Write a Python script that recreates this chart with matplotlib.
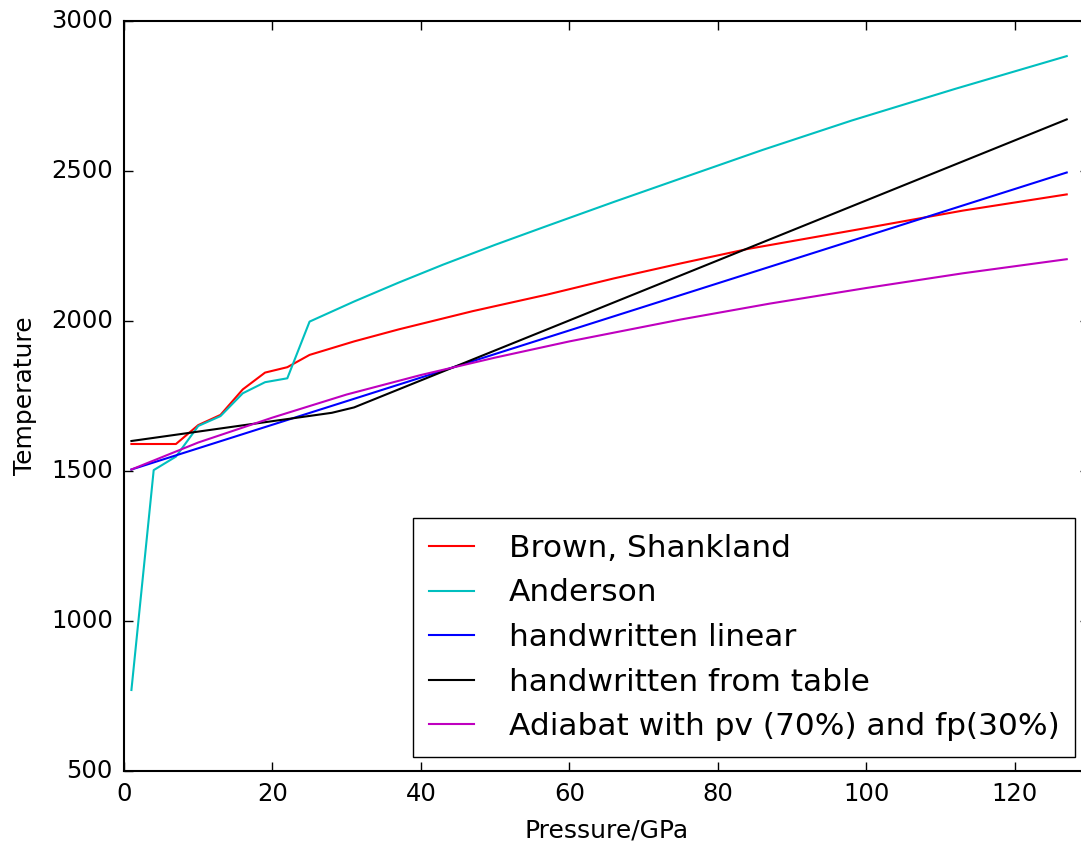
"""
Mantle geotherm comparison
==========================
Temperature against pressure for several published and hand-built
geotherms, drawn in the old (classic) matplotlib look.
"""

from __future__ import annotations

import matplotlib

matplotlib.use("Agg")
import matplotlib.pyplot as plt

# ---------------------------------------------------------------------------
# Geotherms (pressure in GPa, temperature in K)
# ---------------------------------------------------------------------------

BROWN_P = [1, 4, 7, 10, 13, 16, 19, 22, 25, 31, 37, 47, 57, 66, 75, 84,
           100, 113, 127]
BROWN_T = [1590, 1590, 1590, 1653, 1687, 1772, 1828, 1846, 1887, 1932,
           1972, 2033, 2088, 2142, 2192, 2240, 2310, 2368, 2422]

ANDERSON_P = [1, 4, 7, 10, 13, 16, 19, 22, 25, 31, 37, 43, 50, 57, 66, 75,
              86, 98, 112, 127]
ANDERSON_T = [770, 1503, 1548, 1650, 1683, 1759, 1796, 1809, 1998, 2065,
              2128, 2188, 2254, 2317, 2397, 2475, 2570, 2668, 2774, 2883]

LINEAR_P = [1, 127]
LINEAR_T = [1505, 2495]

TABLE_P = [1, 28, 31, 127]
TABLE_T = [1600, 1694, 1712, 2672]

ADIABAT_P = [1, 10, 20, 30, 40, 50, 60, 75, 87, 100, 113, 127]
ADIABAT_T = [1505, 1595, 1678, 1755, 1820, 1878, 1932, 2005, 2058, 2110,
             2159, 2206]

SERIES = [
    (BROWN_P, BROWN_T, "r", "Brown, Shankland"),
    (ANDERSON_P, ANDERSON_T, "c", "Anderson"),
    (LINEAR_P, LINEAR_T, "b", "handwritten linear"),
    (TABLE_P, TABLE_T, "k", "handwritten from table"),
    (ADIABAT_P, ADIABAT_T, "m", "Adiabat with pv (70%) and fp(30%)"),
]


def main() -> None:
    plt.style.use("classic")
    plt.rcParams["font.family"] = "DejaVu Sans"

    fig = plt.figure(figsize=(10.81, 8.44), dpi=100, facecolor="white")
    # axes run slightly past the right edge of the canvas
    ax = fig.add_axes([124 / 1081, 73 / 844, 965 / 1081, 750 / 844])

    for p, t, color, label in SERIES:
        ax.plot(p, t, color=color, linewidth=1.5, label=label)

    ax.set_xlim(0, 130)
    ax.set_ylim(500, 3000)
    ax.set_xticks(range(0, 121, 20))
    ax.set_yticks(range(500, 3001, 500))
    ax.tick_params(which="major", direction="in", length=6.5, width=1,
                   labelsize=17.5, pad=8, top=True, right=True)
    for spine in ax.spines.values():
        spine.set_linewidth(1.5)

    ax.set_xlabel("Pressure/GPa", fontsize=18, labelpad=9)
    ax.set_ylabel("Temperature", fontsize=18, labelpad=10)

    ax.legend(loc="lower right", fontsize=22.5, fancybox=False, shadow=False,
              frameon=True, framealpha=1, edgecolor="black",
              handlelength=1.45, handletextpad=1.1, labelspacing=0.5,
              borderpad=0.5, borderaxespad=0.45, numpoints=1)

    fig.savefig("out.png", dpi=100, facecolor="white")


if __name__ == "__main__":
    main()
